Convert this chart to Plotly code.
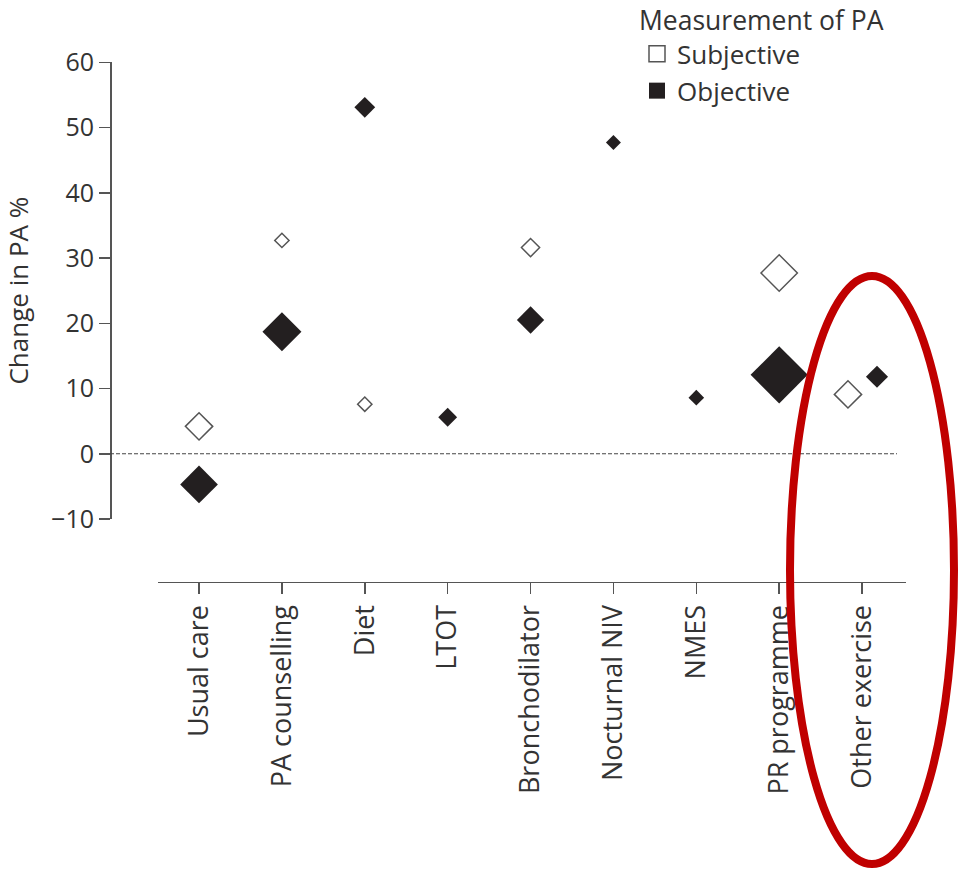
import plotly.graph_objects as go

# ---- data ----
categories = ["Usual care", "PA counselling", "Diet", "LTOT", "Bronchodilator",
              "Nocturnal NIV", "NMES", "PR programme", "Other exercise"]
subjective = [4.2, 32.7, 7.6, None, 31.6, None, None, 27.7, 9.1]
objective = [-4.7, 18.7, 53.1, 5.6, 20.5, 47.7, 8.6, 12.1, 11.8]
# relative marker weights (marker size)
subjective_weight = [21, 11, 11, None, 14, None, None, 28, 21]
objective_weight = [29, 30, 16, 14.5, 21, 11.5, 12, 44, 17]
# horizontal dodge inside a category (fraction of a category)
subjective_dodge = [0, 0, 0, 0, 0, 0, 0, 0, -0.17]
objective_dodge = [0, 0, 0, 0, 0, 0, 0, 0, 0.18]
y_ticks = [-10, 0, 10, 20, 30, 40, 50, 60]
y_tick_labels = ["\u221210", "0", "10", "20", "30", "40", "50", "60"]

W, H = 961, 871
FONT = "Open Sans"
TXT = "#333333"
AX = "#555555"

def px(x):
    return x / W

def py(y):
    return 1 - y / H

idx = list(range(len(categories)))

def pts(vals, weights, dodge):
    xs, ys, ss = [], [], []
    for i, v, w, d in zip(idx, vals, weights, dodge):
        if v is None:
            continue
        xs.append(i + d)
        ys.append(v)
        ss.append(w)
    return xs, ys, ss

sx, sy, ss = pts(subjective, subjective_weight, subjective_dodge)
ox, oy, os_ = pts(objective, objective_weight, objective_dodge)

fig = go.Figure()
fig.add_trace(go.Scatter(
    x=sx, y=sy, mode="markers", showlegend=False, cliponaxis=False,
    marker=dict(symbol="diamond", size=ss, color="white", opacity=1,
                line=dict(color=AX, width=1.5)),
))
fig.add_trace(go.Scatter(
    x=ox, y=oy, mode="markers", showlegend=False, cliponaxis=False,
    marker=dict(symbol="diamond", size=os_, color="#231f20", opacity=1,
                line=dict(width=0)),
))
# legend entries
fig.add_trace(go.Scatter(
    x=[None], y=[None], mode="markers", name="Subjective",
    marker=dict(symbol="square", size=16, color="white", opacity=1,
                line=dict(color=AX, width=1.5)),
))
fig.add_trace(go.Scatter(
    x=[None], y=[None], mode="markers", name="Objective",
    marker=dict(symbol="square", size=16, color="#231f20", opacity=1,
                line=dict(width=0)),
))

y_axis_pos = px(110)
fig.update_layout(
    template="none",
    width=W, height=H,
    margin=dict(l=0, r=0, t=0, b=0, autoexpand=False),
    paper_bgcolor="white", plot_bgcolor="white",
    font=dict(family=FONT, color=TXT, size=26),
    hovermode=False,
    xaxis=dict(
        domain=[px(158), px(906)],
        anchor="free", position=py(581.7),
        range=[-0.495, 8.53], automargin=False,
        tickmode="array", tickvals=idx, ticktext=categories,
        tickangle=-90, ticks="outside", ticklen=11, tickwidth=1.5,
        tickcolor=AX, showline=True, linecolor=AX, linewidth=1.5,
        showgrid=False, zeroline=False,
        tickfont=dict(size=27, family=FONT, color=TXT),
    ),
    yaxis=dict(
        domain=[py(519), py(62.3)],
        anchor="free", position=y_axis_pos,
        range=[-10, 60], automargin=False,
        tickmode="array", tickvals=y_ticks, ticktext=y_tick_labels,
        ticks="outside", ticklen=11, tickwidth=1.5, tickcolor=AX,
        showline=True, linecolor=AX, linewidth=1.5,
        showgrid=False, zeroline=False,
        tickfont=dict(size=25, family=FONT, color=TXT),
        title=dict(text="Change in PA %", standoff=22,
                   font=dict(size=26, family=FONT, color=TXT)),
    ),
    legend=dict(
        title=dict(text="Measurement of PA", font=dict(size=26.5, family=FONT, color=TXT)),
        x=px(637), xanchor="left", y=py(-4), yanchor="top",
        font=dict(size=26, family=FONT, color=TXT),
        bgcolor="rgba(0,0,0,0)", itemclick=False,
    ),
    shapes=[
        dict(type="line", xref="paper", yref="y",
             x0=y_axis_pos, x1=px(897), y0=0, y1=0,
             line=dict(color="#444444", width=1, dash="4px,2px")),
        dict(type="circle", xref="paper", yref="paper",
             x0=px(790), x1=px(954), y0=py(864), y1=py(276),
             line=dict(color="#c00000", width=8)),
    ],
)

# place the figure at the window's top-left corner
fig.write_html("out.html",
               config={"displayModeBar": False, "staticPlot": True},
               post_script="document.body.style.margin='0';document.body.style.overflow='hidden';")
